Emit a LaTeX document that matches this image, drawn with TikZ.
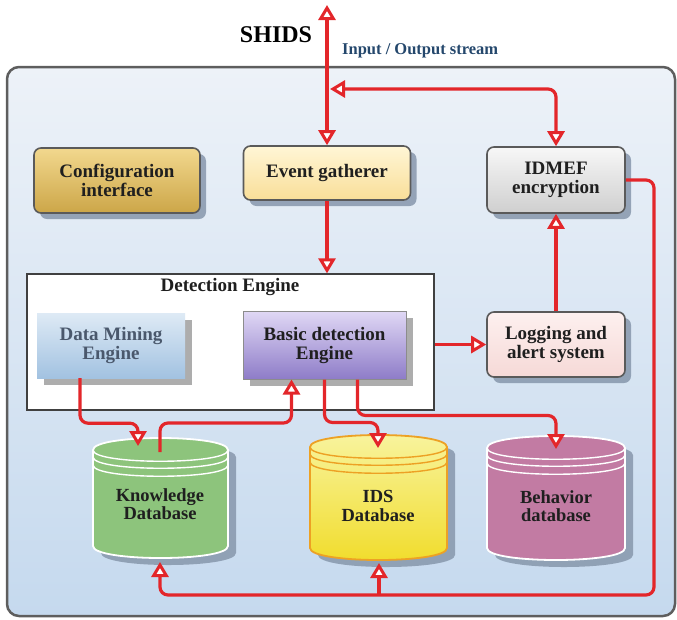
\documentclass[tikz,border=0pt]{standalone}
\usepackage{fontspec}
\setmainfont{Liberation Serif}
\usetikzlibrary{arrows.meta,shadows,calc}
\definecolor{redl}{HTML}{E3262A}
\definecolor{framec}{HTML}{5E5E5E}
\definecolor{bgtop}{HTML}{EDF2F8}
\definecolor{bgbot}{HTML}{C5D9EE}
\definecolor{shadowc}{HTML}{8797AC}
\definecolor{iocol}{HTML}{24476C}
\definecolor{boxborder}{HTML}{5A5A5A}
\definecolor{cfgtop}{HTML}{F2D88E}
\definecolor{cfgbot}{HTML}{CCA648}
\definecolor{egtop}{HTML}{FFF6D6}
\definecolor{egbot}{HTML}{F9DE98}
\definecolor{idtop}{HTML}{F7F7F7}
\definecolor{idbot}{HTML}{CFCFCF}
\definecolor{lgtop}{HTML}{FDF0EF}
\definecolor{lgbot}{HTML}{F6D9D7}
\definecolor{dmtop}{HTML}{DEEAF5}
\definecolor{dmbot}{HTML}{A2C2E1}
\definecolor{dmtext}{HTML}{4A586C}
\definecolor{bdtop}{HTML}{E0D8F5}
\definecolor{bdbot}{HTML}{8E7CC8}
\definecolor{kgreen}{HTML}{8DC47C}
\definecolor{ytop}{HTML}{F8F4A0}
\definecolor{ybot}{HTML}{F1DC2A}
\definecolor{yborder}{HTML}{EDA124}
\definecolor{mauve}{HTML}{C27BA3}
\newcommand\dbshape[6]{%
  \path[fill=shadowc,opacity=.85] (#1+8,#3+7) -- (#1+8,#4+7) .. controls (#1+8,#4+23) and (#2+8,#4+23) .. (#2+8,#4+7) -- (#2+8,#3+7) .. controls (#2+8,#3-9) and (#1+8,#3-9) .. (#1+8,#3+7) -- cycle;
  \path[#5, draw=#6, line width=1.8pt] (#1,#3) -- (#1,#4) .. controls (#1,#4+16) and (#2,#4+16) .. (#2,#4) -- (#2,#3) .. controls (#2,#3-16) and (#1,#3-16) .. (#1,#3) -- cycle;
  \draw[#6, line width=1.4pt] (#1,#3) .. controls (#1,#3+15) and (#2,#3+15) .. (#2,#3);
  \draw[#6, line width=1.4pt] (#1,#3+7) .. controls (#1,#3+22) and (#2,#3+22) .. (#2,#3+7);
  \draw[#6, line width=1.4pt] (#1,#3+15) .. controls (#1,#3+30) and (#2,#3+30) .. (#2,#3+15);
}
\begin{document}
\begin{tikzpicture}[x=1pt,y=-1pt,
  >={Triangle[length=15pt,width=17pt,fill=white,line width=3pt]},
  lbl/.style={font=\bfseries\fontsize{19}{19}\selectfont, align=center, text=black!88},
  box/.style={lbl, draw=boxborder, line width=1.6pt, rounded corners=7pt, inner sep=0pt,
    drop shadow={shadow xshift=6pt,shadow yshift=-6pt,fill=shadowc,opacity=0.85}},
  sqbox/.style={lbl, inner sep=0pt,
    drop shadow={shadow xshift=7pt,shadow yshift=-7pt,fill=black!32,opacity=1}},
  dbtext/.style={font=\bfseries\fontsize{18.5}{18.5}\selectfont, align=center, text=black!88},
  link/.style={draw=redl, line width=3.2pt, rounded corners=8pt}]
\useasboundingbox (0,0) rectangle (677,619);
% frame
\draw[draw=framec, line width=2.5pt, rounded corners=12pt, top color=bgtop, bottom color=bgbot] (7,67) rectangle (675,616);
\node[font=\bfseries\fontsize{24}{26}\selectfont] (shids) at (276,35) {SHIDS};
\node[font=\bfseries\fontsize{16.5}{17}\selectfont, text=iocol, anchor=west, inner sep=0pt] (io) at (342,51) {Input / Output stream};
% top row boxes
\node[box, top color=cfgtop, bottom color=cfgbot, minimum width=166pt, minimum height=65pt] (cfg) at (117,180.5) {Configuration\\interface};
\node[box, top color=egtop, bottom color=egbot, minimum width=167pt, minimum height=54pt] (eg) at (327,173) {Event gatherer};
\node[box, top color=idtop, bottom color=idbot, minimum width=138pt, minimum height=66pt] (idmef) at (556,180) {IDMEF\\encryption};
\node[box, top color=lgtop, bottom color=lgbot, minimum width=138pt, minimum height=65pt] (log) at (556,344.5) {Logging and\\alert system};
% detection engine
\node[draw=black!75, fill=white, line width=1.3pt, minimum width=407pt, minimum height=136pt, inner sep=0pt] (de) at (230.5,342) {};
\node[lbl] (detitle) at (230,287) {Detection Engine};
\node[sqbox, top color=dmtop, bottom color=dmbot, text=dmtext, minimum width=148pt, minimum height=65pt] (dme) at (111,345.5) {Data Mining\\Engine};
\node[sqbox, draw=black!45, line width=1pt, top color=bdtop, bottom color=bdbot, minimum width=163pt, minimum height=68pt] (bde) at (324.5,345) {Basic detection\\Engine};
% databases
\dbshape{93}{228}{450}{546}{fill=kgreen}{white}
\dbshape{310}{447}{447}{548}{top color=ytop, bottom color=ybot}{yborder}
\dbshape{487}{625}{448}{548}{fill=mauve}{white}
\node[dbtext] (kdb) at (160,504) {Knowledge\\Database};
\node[dbtext] (ids) at (378,506) {IDS\\Database};
\node[dbtext] (beh) at (556,506) {Behavior\\database};
\coordinate (kin) at (138,446);
\coordinate (kout) at (160,452);
\coordinate (kbot) at (160,562);
\coordinate (iin) at (378,448);
\coordinate (ibot) at (379,563);
\coordinate (bin) at (556,449);
\coordinate (iotop) at (327,5);
\coordinate (iojoin) at (330,89);
\coordinate (rc) at (654,595);
% connectors
\draw[link,<->] (iotop) -- (eg.north);
\draw[link,<->] (iojoin) -- (iojoin -| idmef.north) -- (idmef.north);
\draw[link,->] (eg.south) -- (eg.south |- de.north);
\draw[link,->] (de.east |- log.west) -- (log.west);
\draw[link,->] (log.north) -- (idmef.south);
\draw[link,->] (idmef.east) -| (rc) -| (kbot);
\draw[link,->] (ibot |- rc) -- (ibot);
\draw[link,->] ([xshift=-31pt]dme.south) -- ++(0,45) -| (kin);
\draw[link,->] (kout) -- (160,423) -| ([xshift=-33pt]bde.south);
\draw[link,->] (bde.south) -- ++(0,43) -| (iin);
\draw[link,->] ([xshift=33pt]bde.south) -- ++(0,36) -| (bin);
\end{tikzpicture}
\end{document}
